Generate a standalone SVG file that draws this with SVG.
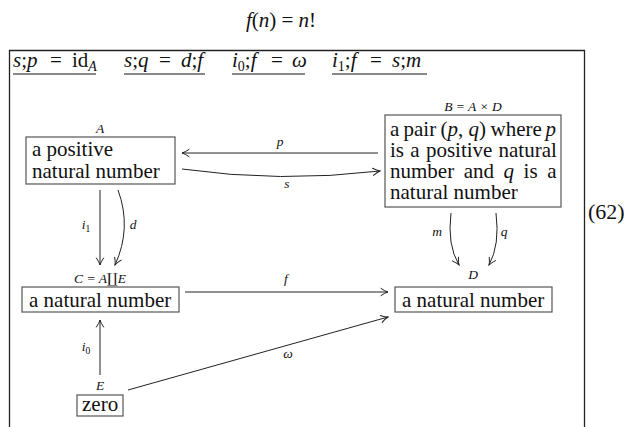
<svg xmlns="http://www.w3.org/2000/svg" width="626" height="427" viewBox="0 0 626 427">
<defs>
<style>
text{font-family:"Liberation Serif","DejaVu Serif",serif;fill:#111}
.bt{font-size:21px}
.lb{font-size:13.5px;font-style:italic}
.it{font-style:italic}
.box{fill:#fff;stroke:#555;stroke-width:1.2}
.con{fill:none;stroke:#222;stroke-width:1}
.ul{stroke:#888;stroke-width:2}
.eq{font-size:21px}
</style>
<marker id="arr" viewBox="-9 -5 10 10" refX="0" refY="0" markerWidth="10" markerHeight="10" markerUnits="userSpaceOnUse" orient="auto">
<path d="M -7 -3.6 Q -3 -0.8 0 0 Q -3 0.8 -7 3.6" fill="none" stroke="#222" stroke-width="1" stroke-linecap="round"/>
</marker>
</defs>
<rect width="626" height="427" fill="#fff"/>

<g id="title">
<text class="eq" x="281" y="27" text-anchor="middle"><tspan class="it">f</tspan>(<tspan class="it">n</tspan>) = <tspan class="it">n</tspan>!</text>
</g>

<g id="frame">
<path d="M 9.5 427 V 50.5 H 584.5 V 427" fill="none" stroke="#222" stroke-width="1.3"/>
<text x="588" y="219" font-size="22">(62)</text>
</g>

<g id="equations">
<text class="eq" y="67"><tspan x="13" class="it">s</tspan><tspan>;</tspan><tspan class="it">p</tspan><tspan x="50">=</tspan><tspan x="72">id</tspan><tspan class="it" font-size="14" dy="4">A</tspan></text>
<line class="ul" x1="13" y1="74" x2="96" y2="74"/>
<text class="eq" y="67"><tspan x="124" class="it">s</tspan><tspan>;</tspan><tspan class="it">q</tspan><tspan x="159">=</tspan><tspan x="181" class="it">d</tspan><tspan>;</tspan><tspan class="it">f</tspan></text>
<line class="ul" x1="124" y1="74" x2="205" y2="74"/>
<text class="eq" y="67"><tspan x="232" class="it">i</tspan><tspan font-size="14" dy="4">0</tspan><tspan dy="-4">;</tspan><tspan class="it">f</tspan><tspan x="271">=</tspan><tspan x="292" class="it">ω</tspan></text>
<line class="ul" x1="232" y1="74" x2="305" y2="74"/>
<text class="eq" y="67"><tspan x="332" class="it">i</tspan><tspan font-size="14" dy="4">1</tspan><tspan dy="-4">;</tspan><tspan class="it">f</tspan><tspan x="370">=</tspan><tspan x="392" class="it">s</tspan><tspan>;</tspan><tspan class="it">m</tspan></text>
<line class="ul" x1="332" y1="74" x2="427" y2="74"/>
</g>

<g id="nodeA">
<text class="lb" x="100" y="133" text-anchor="middle">A</text>
<rect class="box" x="26" y="137" width="149" height="47"/>
<text class="bt"><tspan x="32" y="156">a positive</tspan><tspan x="32" y="178">natural number</tspan></text>
</g>

<g id="nodeB">
<text class="lb" x="473" y="111" text-anchor="middle">B = A × D</text>
<rect class="box" x="385" y="115" width="176" height="92"/>
<text class="bt"><tspan x="390" y="136">a</tspan><tspan x="403.5" y="136">pair</tspan><tspan x="440.5" y="136">(<tspan class="it">p</tspan>, <tspan class="it">q</tspan>)</tspan><tspan x="490.5" y="136">where</tspan><tspan x="545.5" y="136" class="it">p</tspan><tspan x="390" y="157">is</tspan><tspan x="410.3" y="157">a</tspan><tspan x="425.9" y="157">positive</tspan><tspan x="498.5" y="157">natural</tspan><tspan x="390" y="178">number</tspan><tspan x="463.7" y="178">and</tspan><tspan x="503.4" y="178" class="it">q</tspan><tspan x="523.6" y="178">is</tspan><tspan x="547.3" y="178">a</tspan><tspan x="390" y="199">natural number</tspan></text>
</g>

<g id="nodeC">
<text class="lb" x="100" y="283" text-anchor="middle">C = A∐E</text>
<rect class="box" x="22" y="287" width="157" height="25"/>
<text class="bt" x="29" y="307">a natural number</text>
</g>

<g id="nodeD">
<text class="lb" x="473" y="279" text-anchor="middle">D</text>
<rect class="box" x="395" y="287" width="157" height="25"/>
<text class="bt" x="402" y="307">a natural number</text>
</g>

<g id="nodeE">
<text class="lb" x="100" y="390" text-anchor="middle">E</text>
<rect class="box" x="77" y="395" width="46" height="21"/>
<text class="bt" x="82" y="411">zero</text>
</g>

<g id="connectors">
<line class="con" x1="378" y1="153" x2="182" y2="153" marker-end="url(#arr)"/>
<text class="lb" x="280" y="146" text-anchor="middle">p</text>
<path class="con" d="M 182 169 Q 280 183 380 171" marker-end="url(#arr)"/>
<text class="lb" x="287" y="188" text-anchor="middle">s</text>
<line class="con" x1="100" y1="190" x2="100" y2="265" marker-end="url(#arr)"/>
<text class="lb" x="86" y="229" text-anchor="middle">i<tspan font-size="9.5" dy="3" font-style="normal">1</tspan></text>
<path class="con" d="M 118 190 Q 132 228 115 265" marker-end="url(#arr)"/>
<text class="lb" x="133" y="229" text-anchor="middle">d</text>
<line class="con" x1="185" y1="292" x2="388" y2="292" marker-end="url(#arr)"/>
<text class="lb" x="286" y="283" text-anchor="middle">f</text>
<line class="con" x1="100" y1="375" x2="100" y2="320" marker-end="url(#arr)"/>
<text class="lb" x="86" y="351" text-anchor="middle">i<tspan font-size="9.5" dy="3" font-style="normal">0</tspan></text>
<line class="con" x1="128" y1="390" x2="388" y2="317" marker-end="url(#arr)"/>
<text class="lb" x="288" y="358" text-anchor="middle">ω</text>
<path class="con" d="M 451 213 Q 447 245 459 265" marker-end="url(#arr)"/>
<text class="lb" x="437" y="236" text-anchor="middle">m</text>
<path class="con" d="M 496 213 Q 500 245 489 265" marker-end="url(#arr)"/>
<text class="lb" x="504" y="236" text-anchor="middle">q</text>
</g>
</svg>
